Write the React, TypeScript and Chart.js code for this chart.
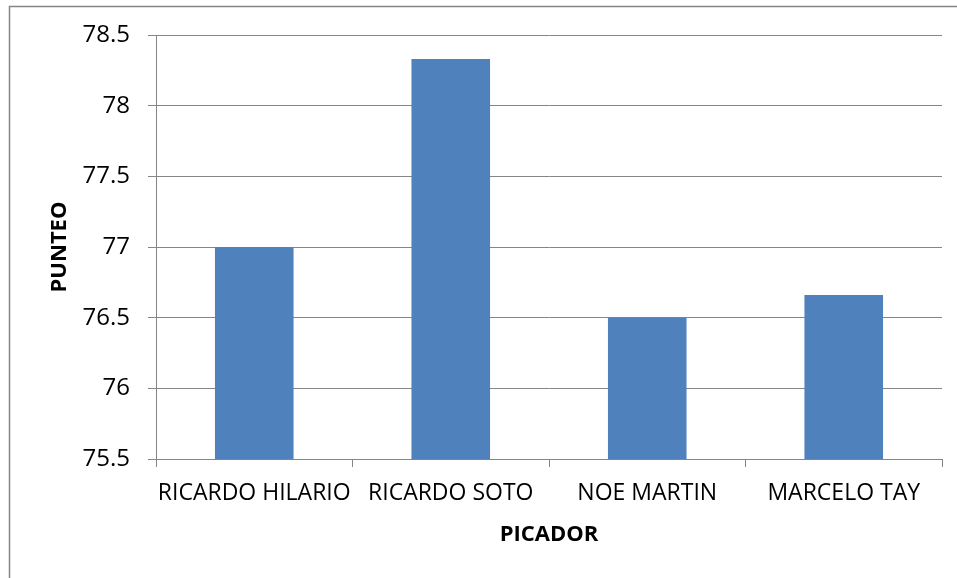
import React, { useEffect, useRef } from "react";
import { Chart, registerables } from "chart.js";

Chart.register(...registerables);

const categories: string[] = ["RICARDO HILARIO", "RICARDO SOTO", "NOE MARTIN", "MARCELO TAY"];
const puntajes: number[] = [77, 78.33, 76.5, 76.66];
const yMin = 75.5;
const yMax = 78.5;
const yStep = 0.5;
const xTitle = "PICADOR";
const yTitle = "PUNTEO";

const FONT = "'Open Sans', 'DejaVu Sans', sans-serif";
const GRAY = "#868686";

const outerBorder = {
  id: "outerBorder",
  beforeDraw(chart: any) {
    const ctx = chart.ctx;
    ctx.save();
    ctx.strokeStyle = GRAY;
    ctx.lineWidth = 1.5;
    ctx.beginPath();
    ctx.moveTo(9.5, chart.height);
    ctx.lineTo(9.5, 6.5);
    ctx.lineTo(chart.width, 6.5);
    ctx.stroke();
    ctx.restore();
  },
};

export default function App() {
  const ref = useRef<HTMLCanvasElement | null>(null);
  useEffect(() => {
    if (!ref.current) return;
    const chart = new Chart(ref.current, {
      type: "bar",
      data: {
        labels: categories,
        datasets: [
          {
            data: puntajes,
            backgroundColor: "#4F81BD",
            borderWidth: 0,
            barPercentage: 0.4,
            categoryPercentage: 1.0,
          },
        ],
      },
      options: {
        responsive: false,
        animation: false,
        layout: { padding: { left: 0, top: 35, right: 15, bottom: 0 } },
        plugins: { legend: { display: false }, tooltip: { enabled: false } },
        scales: {
          x: {
            type: "category",
            grid: {
              offset: true,
              drawOnChartArea: false,
              drawTicks: true,
              tickLength: 8,
              color: GRAY,
            },
            border: { color: GRAY, width: 1 },
            ticks: {
              color: "#000",
              font: { family: FONT, size: 23 },
              padding: 13,
              maxRotation: 0,
              autoSkip: false,
            },
            title: {
              display: true,
              text: xTitle,
              color: "#000",
              font: { family: FONT, size: 22, weight: "bold" },
              padding: { top: 0, bottom: 30 },
            },
            afterFit: (s: any) => {
              s.height = 578 - 459;
            },
          },
          y: {
            min: yMin,
            max: yMax,
            ticks: {
              stepSize: yStep,
              color: "#000",
              font: { family: FONT, size: 24 },
              padding: 18,
              callback: (v: any) => String(Number(v)),
            },
            grid: { color: GRAY, tickLength: 8, lineWidth: 1 },
            border: { color: GRAY, width: 1 },
            title: {
              display: true,
              text: yTitle,
              color: "#000",
              font: { family: FONT, size: 22, weight: "bold" },
              padding: { top: 47, bottom: 0 },
            },
            afterFit: (s: any) => {
              s.width = 156;
            },
          },
        },
      },
      plugins: [outerBorder],
    });
    return () => chart.destroy();
  }, []);
  return (
    <div style={{ position: "absolute", left: 0, top: 0, width: 957, height: 578, background: "#fff" }}>
      <canvas ref={ref} width={957} height={578} style={{ display: "block" }} />
    </div>
  );
}
